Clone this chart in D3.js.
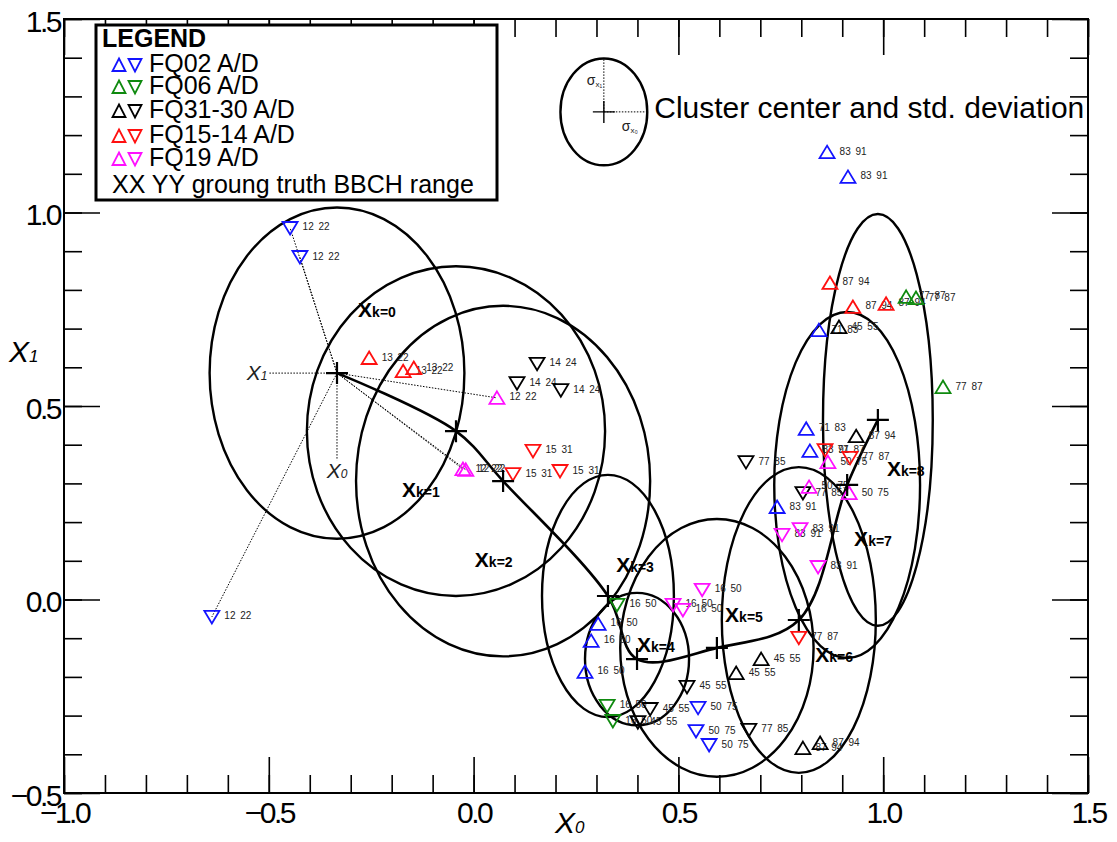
<!DOCTYPE html>
<html><head><meta charset="utf-8">
<script src="https://cdn.jsdelivr.net/npm/d3@7"></script>
<style>
body{margin:0;background:#fff;}
svg{display:block;font-family:"Liberation Sans",Arial,Helvetica,sans-serif;}
</style></head><body>
<svg id="chart" width="1117" height="842"></svg>
<script>
// ---------------- data ----------------
const xTicksMajor = [-1.0, -0.5, 0.0, 0.5, 1.0, 1.5];
const yTicksMajor = [-0.5, 0.0, 0.5, 1.0, 1.5];
const seriesNames = ["FQ02 A/D", "FQ06 A/D", "FQ31-30 A/D", "FQ15-14 A/D", "FQ19 A/D"];
const seriesColors = ["#1414ff", "#0f8a0f", "#000000", "#ff1010", "#ff10ff"];
const legendTitle = "LEGEND";
const legendNote = "XX YY groung truth BBCH range";
const annotationText = "Cluster center and std. deviation";

// [X0, X1, pass (A ascending / D descending), ground truth BBCH range]
const fq02 = [
  [-0.448, 0.960, "D", "12 22"], [-0.424, 0.885, "D", "12 22"], [-0.639, -0.045, "D", "12 22"],
  [0.863, 1.156, "A", "83 91"], [0.914, 1.092, "A", "83 91"], [0.843, 0.696, "A", "71 83"],
  [0.812, 0.441, "A", "71 83"], [0.821, 0.384, "A", "83 91"], [0.741, 0.239, "A", "83 91"],
  [0.304, -0.063, "A", "16 50"], [0.287, -0.107, "A", "16 50"], [0.272, -0.187, "A", "16 50"],
  [0.548, -0.280, "D", "50 75"], [0.543, -0.340, "D", "50 75"], [0.575, -0.376, "D", "50 75"]
];
const fq06 = [
  [0.350, -0.014, "D", "16 50"], [0.326, -0.275, "D", "16 50"], [0.340, -0.314, "D", "16 50"],
  [1.056, 0.782, "A", "77 87"], [1.080, 0.779, "A", "77 87"], [1.146, 0.549, "A", "77 87"]
];
const fq3130 = [
  [0.155, 0.609, "D", "14 24"], [0.106, 0.559, "D", "14 24"], [0.213, 0.541, "D", "14 24"],
  [0.892, 0.704, "A", "45 55"], [0.934, 0.422, "A", "87 94"], [0.665, 0.355, "D", "77 85"],
  [0.804, 0.275, "D", "77 85"], [0.702, -0.154, "A", "45 55"], [0.641, -0.190, "A", "45 55"],
  [0.521, -0.226, "D", "45 55"], [0.431, -0.283, "D", "45 55"], [0.401, -0.317, "D", "45 55"],
  [0.672, -0.337, "D", "77 85"], [0.804, -0.384, "A", "87 94"], [0.846, -0.371, "A", "87 94"]
];
const fq1514 = [
  [-0.255, 0.624, "A", "13 22"], [-0.172, 0.590, "A", "13 22"], [-0.146, 0.598, "A", "13 22"],
  [0.145, 0.384, "D", "15 31"], [0.096, 0.324, "D", "15 31"], [0.211, 0.332, "D", "15 31"],
  [0.870, 0.818, "A", "87 94"], [0.926, 0.756, "A", "87 94"], [1.007, 0.764, "A", "87 94"],
  [0.858, 0.386, "D", "77 87"], [0.919, 0.366, "D", "77 87"], [0.794, -0.099, "D", "77 87"]
];
const fq19 = [
  [0.057, 0.521, "A", "12 22"], [-0.026, 0.337, "A", "12 22"], [-0.019, 0.335, "A", "12 22"],
  [0.865, 0.355, "A", "50 75"], [0.819, 0.291, "A", "50 75"], [0.917, 0.275, "A", "50 75"],
  [0.753, 0.167, "D", "83 91"], [0.797, 0.182, "D", "83 91"], [0.841, 0.084, "D", "83 91"],
  [0.558, 0.025, "D", "16 50"], [0.487, -0.014, "D", "16 50"], [0.511, -0.027, "D", "16 50"]
];
const seriesData = [fq02, fq06, fq3130, fq1514, fq19];

// cluster centres (X0, X1), std deviations (sigma X0, sigma X1), label anchors
const clusterCenters = [
  [-0.3335, 0.585], [-0.043, 0.435], [0.072, 0.306], [0.328, 0.009], [0.399, -0.154],
  [0.594, -0.125], [0.794, -0.053], [0.912, 0.296], [0.987, 0.464]
];
const clusterStd = [
  [0.311, 0.428], [0.364, 0.426], [0.359, 0.453], [0.161, 0.313], [0.127, 0.171],
  [0.236, 0.333], [0.188, 0.395], [0.178, 0.447], [0.134, 0.532]
];
const clusterLabelPos = [
  [-0.282, 0.730], [-0.175, 0.265], [0.003, 0.084], [0.348, 0.071], [0.399, -0.136],
  [0.614, -0.058], [0.834, -0.161], [0.929, 0.138], [1.009, 0.319]
];
const firstClusterRange = "12 22";
// annotation glyph (centre, sigma) in data units
const glyphCenter = [0.318, 1.260];
const glyphStd = [0.106, 0.138];

// ---------------- layout ----------------
const svg = d3.select("#chart");
const L = 64, R = 1088, T = 19, B = 793;
const x = d3.scaleLinear().domain([-1, 1.5]).range([L, R]);
const y = d3.scaleLinear().domain([-0.5, 1.5]).range([B, T]);
const minorX = d3.range(-10, 16).map(v => v / 10);
const minorY = d3.range(-5, 16).map(v => v / 10);
const fmt = d3.format(".1f");

function styleAxis(g) {
  g.select(".domain").remove();
  g.selectAll(".tick line").attr("stroke", "#000").attr("stroke-width", 1.6);
}
// bottom
svg.append("g").attr("transform", `translate(0,${B})`)
  .call(d3.axisBottom(x).tickValues(minorX).tickSizeInner(-18).tickSizeOuter(0).tickFormat(""))
  .call(styleAxis);
const xb = svg.append("g").attr("transform", `translate(0,${B})`)
  .call(d3.axisBottom(x).tickValues(xTicksMajor).tickSizeInner(-36).tickSizeOuter(0).tickFormat(fmt))
  .call(styleAxis);
xb.selectAll("text").attr("y", 30).attr("dy", 0).attr("font-size", 30)
  .attr("letter-spacing", -2.5).attr("fill", "#000").attr("font-family", "Liberation Sans, Arial, sans-serif");
// top
svg.append("g").attr("transform", `translate(0,${T})`)
  .call(d3.axisTop(x).tickValues(minorX).tickSizeInner(-18).tickSizeOuter(0).tickFormat(""))
  .call(styleAxis);
svg.append("g").attr("transform", `translate(0,${T})`)
  .call(d3.axisTop(x).tickValues(xTicksMajor).tickSizeInner(-36).tickSizeOuter(0).tickFormat(""))
  .call(styleAxis);
// left
svg.append("g").attr("transform", `translate(${L},0)`)
  .call(d3.axisLeft(y).tickValues(minorY).tickSizeInner(-18).tickSizeOuter(0).tickFormat(""))
  .call(styleAxis);
const yl = svg.append("g").attr("transform", `translate(${L},0)`)
  .call(d3.axisLeft(y).tickValues(yTicksMajor).tickSizeInner(-36).tickSizeOuter(0).tickFormat(fmt))
  .call(styleAxis);
yl.selectAll("text").attr("x", -4).attr("dy", 12).attr("font-size", 30)
  .attr("letter-spacing", -2.5).attr("fill", "#000").attr("text-anchor", "end")
  .attr("font-family", "Liberation Sans, Arial, sans-serif");
// right
svg.append("g").attr("transform", `translate(${R},0)`)
  .call(d3.axisRight(y).tickValues(minorY).tickSizeInner(-18).tickSizeOuter(0).tickFormat(""))
  .call(styleAxis);
svg.append("g").attr("transform", `translate(${R},0)`)
  .call(d3.axisRight(y).tickValues(yTicksMajor).tickSizeInner(-36).tickSizeOuter(0).tickFormat(""))
  .call(styleAxis);
// frame
svg.append("rect").attr("x", L).attr("y", T).attr("width", R - L).attr("height", B - T)
  .attr("fill", "none").attr("stroke", "#000").attr("stroke-width", 2);

// axis titles
const xt = svg.append("text").attr("x", 555).attr("y", 833).attr("font-style", "italic").attr("font-size", 30);
xt.append("tspan").text("X");
xt.append("tspan").attr("font-size", 17).text("0");
const yt = svg.append("text").attr("x", 9).attr("y", 362).attr("font-style", "italic").attr("font-size", 30);
yt.append("tspan").text("X");
yt.append("tspan").attr("font-size", 17).text("1");

// ---------------- plot ----------------
const plot = svg.append("g");
const clusters = clusterCenters.map((c, i) => ({ cx: c[0], cy: c[1], sx: clusterStd[i][0], sy: clusterStd[i][1], k: i,
  lx: clusterLabelPos[i][0], ly: clusterLabelPos[i][1] }));

// dotted membership lines from the first cluster centre
const allPts = [];
seriesData.forEach((s, si) => s.forEach(p => allPts.push({ x: p[0], y: p[1], dir: p[2], lbl: p[3], color: seriesColors[si] })));
const c0 = clusters[0];
plot.selectAll("line.mem").data(allPts.filter(p => p.lbl === firstClusterRange)).join("line")
  .attr("x1", x(c0.cx)).attr("y1", y(c0.cy)).attr("x2", d => x(d.x)).attr("y2", d => y(d.y))
  .attr("stroke", "#000").attr("stroke-width", 1).attr("stroke-dasharray", "1.5,1.5");
// local axes of first cluster
const guideDx = 0.165, guideDy = 0.225;
plot.append("line").attr("x1", x(c0.cx - guideDx)).attr("x2", x(c0.cx)).attr("y1", y(c0.cy)).attr("y2", y(c0.cy))
  .attr("stroke", "#000").attr("stroke-dasharray", "1.5,1.5");
plot.append("line").attr("x1", x(c0.cx)).attr("x2", x(c0.cx)).attr("y1", y(c0.cy)).attr("y2", y(c0.cy - guideDy))
  .attr("stroke", "#000").attr("stroke-dasharray", "1.5,1.5");
const g1 = plot.append("text").attr("x", x(c0.cx - guideDx) - 2).attr("y", y(c0.cy) + 7)
  .attr("text-anchor", "end").attr("font-style", "italic").attr("font-size", 21).attr("fill", "#222");
g1.append("tspan").text("X"); g1.append("tspan").attr("font-size", 12).text("1");
const g0 = plot.append("text").attr("x", x(c0.cx)).attr("y", y(c0.cy - guideDy) + 18)
  .attr("text-anchor", "middle").attr("font-style", "italic").attr("font-size", 21).attr("fill", "#222");
g0.append("tspan").text("X"); g0.append("tspan").attr("font-size", 12).text("0");

// ellipses
plot.selectAll("ellipse.cl").data(clusters).join("ellipse")
  .attr("cx", d => x(d.cx)).attr("cy", d => y(d.cy))
  .attr("rx", d => x(d.cx + d.sx) - x(d.cx)).attr("ry", d => y(d.cy) - y(d.cy + d.sy))
  .attr("fill", "none").attr("stroke", "#000").attr("stroke-width", 2.4);

// trajectory
const line = d3.line().x(d => x(d.cx)).y(d => y(d.cy)).curve(d3.curveCatmullRom.alpha(0.5));
plot.append("path").attr("d", line(clusters)).attr("fill", "none").attr("stroke", "#000").attr("stroke-width", 2.6);

// points
const triUp = "M0,-6.5L7.5,6L-7.5,6Z", triDown = "M-7.5,-6L7.5,-6L0,6.5Z";
plot.selectAll("text.pl").data(allPts).join("text")
  .attr("x", d => x(d.x) + 12.5).attr("y", d => y(d.y) + 2.5)
  .attr("font-size", 10).attr("word-spacing", 2).attr("fill", "#222").text(d => d.lbl);
plot.selectAll("path.pt").data(allPts).join("path")
  .attr("transform", d => `translate(${x(d.x)},${y(d.y)})`)
  .attr("d", d => d.dir === "A" ? triUp : triDown)
  .attr("fill", "none").attr("stroke", d => d.color).attr("stroke-width", 1.8);

// cluster centre crosses
const cross = "M-11,0H11M0,-11V11";
plot.selectAll("path.cc").data(clusters).join("path")
  .attr("transform", d => `translate(${x(d.cx)},${y(d.cy)})`).attr("d", cross)
  .attr("stroke", "#000").attr("stroke-width", 2.2);
// cluster labels
const cl = plot.selectAll("text.cl").data(clusters).join("text")
  .attr("x", d => x(d.lx)).attr("y", d => y(d.ly)).attr("font-weight", "bold").attr("fill", "#000");
cl.append("tspan").attr("font-size", 21).text("X");
cl.append("tspan").attr("font-size", 14).text(d => "k=" + d.k);

// ---------------- annotation glyph ----------------
const ga = svg.append("g");
const gcx = x(glyphCenter[0]), gcy = y(glyphCenter[1]);
const grx = x(glyphCenter[0] + glyphStd[0]) - gcx, gry = gcy - y(glyphCenter[1] + glyphStd[1]);
ga.append("ellipse").attr("cx", gcx).attr("cy", gcy).attr("rx", grx).attr("ry", gry)
  .attr("fill", "none").attr("stroke", "#000").attr("stroke-width", 2.4);
ga.append("path").attr("transform", `translate(${gcx},${gcy})`).attr("d", cross).attr("stroke", "#000").attr("stroke-width", 1.4);
ga.append("line").attr("x1", gcx).attr("x2", gcx + grx).attr("y1", gcy).attr("y2", gcy)
  .attr("stroke", "#000").attr("stroke-dasharray", "1.5,1.5");
ga.append("line").attr("x1", gcx).attr("x2", gcx).attr("y1", gcy).attr("y2", gcy - gry)
  .attr("stroke", "#000").attr("stroke-dasharray", "1.5,1.5");
const s1 = ga.append("text").attr("x", gcx - 17).attr("y", gcy - 27).attr("font-size", 14).attr("fill", "#222");
s1.append("tspan").text("σ"); s1.append("tspan").attr("font-size", 8).attr("dy", 2).text("x₁");
const s0 = ga.append("text").attr("x", gcx + 18).attr("y", gcy + 19).attr("font-size", 14).attr("fill", "#222");
s0.append("tspan").text("σ"); s0.append("tspan").attr("font-size", 8).attr("dy", 2).text("x₀");
ga.append("text").attr("x", gcx + grx + 7).attr("y", 118).attr("font-size", 30)
  .attr("textLength", 430).attr("lengthAdjust", "spacingAndGlyphs").attr("fill", "#000").text(annotationText);

// ---------------- legend ----------------
const lg = svg.append("g");
lg.append("rect").attr("x", 96).attr("y", 25).attr("width", 401).attr("height", 175)
  .attr("fill", "#fff").attr("stroke", "#000").attr("stroke-width", 3);
lg.append("text").attr("x", 102).attr("y", 47).attr("font-size", 25).attr("font-weight", "bold").text(legendTitle);
const rowBase = [72, 94, 118, 143, 166];
seriesNames.forEach((name, i) => {
  const yb = rowBase[i];
  lg.append("path").attr("transform", `translate(119,${yb - 7})`).attr("d", "M0,-6.5L6.5,6L-6.5,6Z")
    .attr("fill", "none").attr("stroke", seriesColors[i]).attr("stroke-width", 1.8);
  lg.append("path").attr("transform", `translate(135,${yb - 7})`).attr("d", "M-6.5,-6L6.5,-6L0,6.5Z")
    .attr("fill", "none").attr("stroke", seriesColors[i]).attr("stroke-width", 1.8);
  lg.append("text").attr("x", 149).attr("y", yb).attr("font-size", 25).text(name);
});
lg.append("text").attr("x", 112).attr("y", 193).attr("font-size", 25).text(legendNote);
</script>
</body></html>
